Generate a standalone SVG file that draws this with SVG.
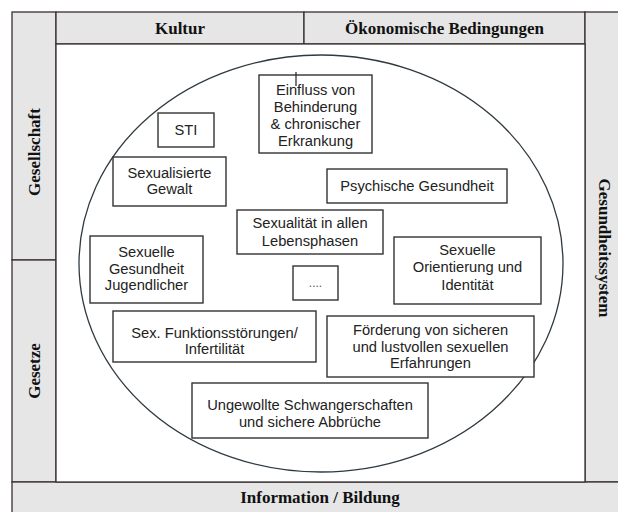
<svg xmlns="http://www.w3.org/2000/svg" width="618" height="512" viewBox="0 0 618 512">
<style>
.panel{fill:#e6e6e6;stroke:#3a3030;stroke-width:1.3}
.hd{font-family:"Liberation Serif","Times New Roman",serif;font-weight:bold;font-size:17px;fill:#111;text-anchor:middle}
.box{fill:#fff;stroke:#333;stroke-width:1.4}
.t{font-family:"Liberation Sans",Arial,sans-serif;font-size:14.7px;fill:#222;text-anchor:middle}
</style>
<rect width="618" height="512" fill="#fff"/>
<g id="frame">
<rect class="panel" x="12" y="12" width="44" height="248"/>
<rect class="panel" x="12" y="260" width="44" height="222"/>
<rect class="panel" x="56" y="12" width="248" height="32"/>
<rect class="panel" x="304" y="12" width="281" height="32"/>
<rect class="panel" x="585" y="12" width="34" height="470"/>
<rect class="panel" x="12" y="482" width="607" height="31"/>
<rect x="56" y="44" width="529" height="438" fill="#fff" stroke="#3a3030" stroke-width="1.3"/>
</g>
<g id="kultur"><text class="hd" x="180" y="34">Kultur</text></g>
<g id="oekonomie"><text class="hd" x="444.5" y="34">Ökonomische Bedingungen</text></g>
<g id="gesellschaft"><text class="hd" transform="translate(34,152) rotate(-90)" y="6">Gesellschaft</text></g>
<g id="gesetze"><text class="hd" transform="translate(34,371) rotate(-90)" y="6">Gesetze</text></g>
<g id="gesundheitssystem"><text class="hd" transform="translate(605,248) rotate(90)" y="6">Gesundheitssystem</text></g>
<g id="bildung"><text class="hd" x="320" y="503">Information / Bildung</text></g>
<g id="ellipse"><ellipse cx="321" cy="263.5" rx="242" ry="208.5" fill="none" stroke="#2e3a40" stroke-width="1.3"/></g>
<g id="sti"><rect class="box" x="158" y="113" width="56" height="34"/><text class="t" x="186" y="135">STI</text></g>
<g id="einfluss"><rect class="box" x="259" y="75" width="113" height="78"/>
<text class="t" x="315.5" y="95">Einfluss von</text><text class="t" x="315.5" y="112">Behinderung</text><text class="t" x="315.5" y="129">&amp; chronischer</text><text class="t" x="315.5" y="146">Erkrankung</text></g>
<g id="gewalt"><rect class="box" x="113" y="157" width="113" height="49"/>
<text class="t" x="169.5" y="178">Sexualisierte</text><text class="t" x="169.5" y="194">Gewalt</text></g>
<g id="psychisch"><rect class="box" x="327" y="169" width="180" height="34"/><text class="t" x="417" y="191">Psychische Gesundheit</text></g>
<g id="lebensphasen"><rect class="box" x="237" y="210" width="146" height="44"/>
<text class="t" x="310" y="228">Sexualität in allen</text><text class="t" x="310" y="246">Lebensphasen</text></g>
<g id="jugend"><rect class="box" x="90" y="236" width="113" height="67"/>
<text class="t" x="146.5" y="257">Sexuelle</text><text class="t" x="146.5" y="274">Gesundheit</text><text class="t" x="146.5" y="290">Jugendlicher</text></g>
<g id="dots"><rect class="box" x="293" y="266" width="45" height="34"/><text class="t" x="315.5" y="287" style="font-size:12px;fill:#555">....</text></g>
<g id="orientierung"><rect class="box" x="394" y="237" width="147" height="67"/>
<text class="t" x="467.5" y="255">Sexuelle</text><text class="t" x="467.5" y="272">Orientierung und</text><text class="t" x="467.5" y="290">Identität</text></g>
<g id="funktion"><rect class="box" x="113" y="311" width="203" height="51"/>
<text class="t" x="214.5" y="338">Sex. Funktionsstörungen/</text><text class="t" x="214.5" y="354">Infertilität</text></g>
<g id="foerderung"><rect class="box" x="327" y="316" width="207" height="61"/>
<text class="t" x="430.5" y="335">Förderung von sicheren</text><text class="t" x="430.5" y="352">und lustvollen sexuellen</text><text class="t" x="430.5" y="368">Erfahrungen</text></g>
<g id="ungewollt"><rect class="box" x="192" y="383" width="236" height="55"/>
<text class="t" x="310" y="410">Ungewollte Schwangerschaften</text><text class="t" x="310" y="427">und sichere Abbrüche</text></g>
<g id="connectors"><line x1="296" y1="72" x2="296" y2="86" stroke="#222" stroke-width="1.2"/></g>
</svg>
